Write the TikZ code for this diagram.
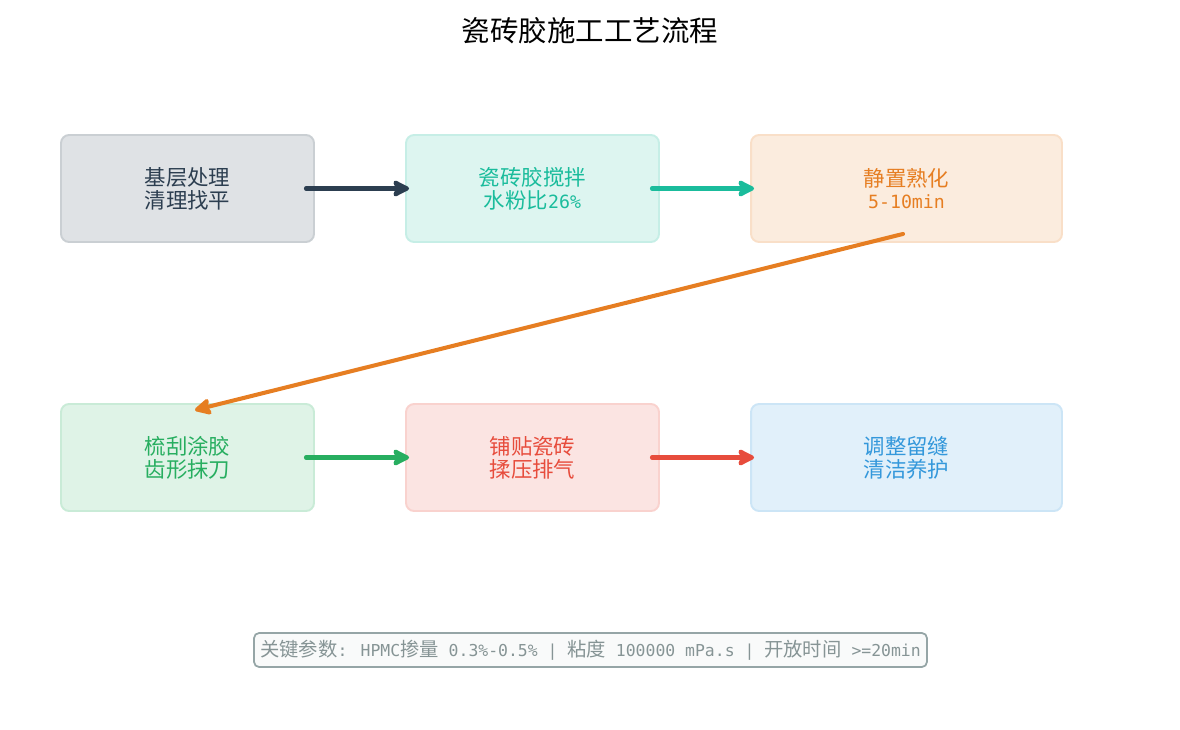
\documentclass[tikz,border=0pt]{standalone}
\usepackage{fontspec}
\setmainfont{Noto Sans CJK SC}
\newfontfamily\monofont[Scale=0.85]{DejaVu Sans Mono}
\usetikzlibrary{arrows.meta}
\definecolor{darkblue}{HTML}{2C3E50}
\definecolor{teal}{HTML}{1ABC9C}
\definecolor{orange}{HTML}{E67E22}
\definecolor{green}{HTML}{27AE60}
\definecolor{red}{HTML}{E74C3C}
\definecolor{blue}{HTML}{3498DB}
\definecolor{notegray}{HTML}{95A5A6}
\begin{document}
\begin{tikzpicture} [x = 0.02cm, y = -0.02cm,
	stepbox/.style = {draw = #1!25, fill = #1!15, line width = 1.1pt, rounded corners = 0.16cm,
		text = #1, align = center, font = \fontsize{12.2}{13}\selectfont, inner sep = 0pt},
	wide/.style = {minimum width = 5.06cm, minimum height = 2.14cm},
	wider/.style = {minimum width = 6.22cm, minimum height = 2.14cm},
	flow/.style = {#1, line width = 2.3pt, line cap = round, -{Stealth[length = 11pt, width = 11pt, inset = 2pt, round]}}]
	\useasboundingbox (0,0) rectangle (1180,730);
	\node (title) at (590,31) {\fontsize{16.2}{18}\selectfont 瓷砖胶施工工艺流程};
	\node [stepbox = darkblue, wide] (base) at (187.5,188.5) {基层处理\\清理找平};
	\node [stepbox = teal, wide] (mix) at (532.5,188.5) {瓷砖胶搅拌\\水粉比{\monofont 26\%}};
	\node [stepbox = orange, wider] (rest) at (906.5,188.5) {静置熟化\\{\monofont 5-10min}};
	\node [stepbox = green, wide] (comb) at (187.5,457.5) {梳刮涂胶\\齿形抹刀};
	\node [stepbox = red, wide] (lay) at (532.5,457.5) {铺贴瓷砖\\揉压排气};
	\node [stepbox = blue, wider] (joint) at (906.5,457.5) {调整留缝\\清洁养护};
	\draw [flow = darkblue] ([xshift = -0.18cm] base.east) -- ([xshift = 0.08cm] mix.west);
	\draw [flow = teal] ([xshift = -0.16cm] mix.east) -- ([xshift = 0.08cm] rest.west);
	\draw [flow = orange] ([xshift = -0.07cm, yshift = 0.18cm] rest.south) -- ([xshift = 0.15cm, yshift = -0.14cm] comb.north);
	\draw [flow = green] ([xshift = -0.18cm] comb.east) -- ([xshift = 0.08cm] lay.west);
	\draw [flow = red] ([xshift = -0.16cm] lay.east) -- ([xshift = 0.08cm] joint.west);
	\node [draw = notegray, fill = notegray!6, line width = 1pt, rounded corners = 0.1cm, text = notegray!90!black,
		minimum width = 13.46cm, minimum height = 0.68cm, font = \fontsize{11}{12}\selectfont] (params) at (590.5,650)
		{关键参数{\monofont: HPMC}掺量{\monofont\ 0.3\%-0.5\% | }粘度{\monofont\ 100000 mPa.s | }开放时间{\monofont\ >=20min}};
\end{tikzpicture}
\end{document}
